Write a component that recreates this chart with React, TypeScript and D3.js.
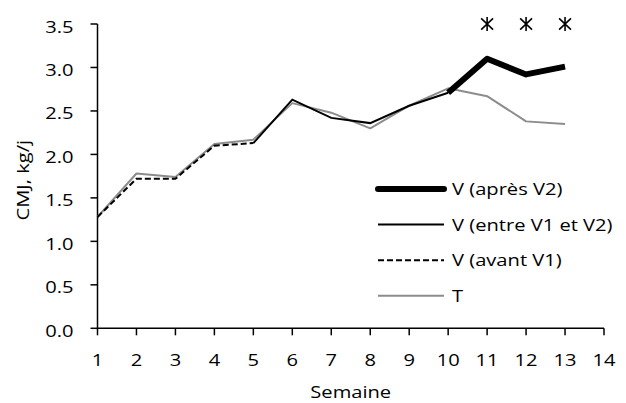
import { useEffect, useRef } from "react";
import * as d3 from "d3";

// weeks and series values (CMJ, kg/j)
const weeks = [1, 2, 3, 4, 5, 6, 7, 8, 9, 10, 11, 12, 13];
const tValues = [1.28, 1.78, 1.74, 2.12, 2.17, 2.59, 2.48, 2.30, 2.56, 2.76, 2.67, 2.38, 2.35];
const vAvantWeeks = [1, 2, 3, 4, 5];
const vAvant = [1.28, 1.72, 1.72, 2.10, 2.13];
const vEntreWeeks = [5, 6, 7, 8, 9, 10];
const vEntre = [2.13, 2.63, 2.42, 2.36, 2.56, 2.71];
const vApresWeeks = [10, 11, 12, 13];
const vApres = [2.71, 3.10, 2.92, 3.01];
const starWeeks = [11, 12, 13];
const starLevel = 3.5;

const xTicks = d3.range(1, 15);
const yTicks = [0, 0.5, 1, 1.5, 2, 2.5, 3, 3.5];

const legendItems = [
  { label: "V (après V2)", width: 6, color: "#000", dash: "" },
  { label: "V (entre V1 et V2)", width: 2, color: "#000", dash: "" },
  { label: "V (avant V1)", width: 2, color: "#000", dash: "6,3" },
  { label: "T", width: 2, color: "#8c8c8c", dash: "" },
];

const W = 626;
const H = 403;
const FONT = "Open Sans, sans-serif";
const FS = 16.5;
const SX = 1.22; // glyphs in the reference are wide

export default function App() {
  const ref = useRef<SVGSVGElement | null>(null);

  useEffect(() => {
    if (!ref.current) return;
    const svg = d3.select(ref.current);
    svg.selectAll("*").remove();

    const x = d3.scaleLinear().domain([1, 14]).range([97.5, 604]);
    const y = d3.scaleLinear().domain([0, 3.5]).range([328.3, 24]);

    // text drawn at (tx,ty), widened horizontally in its own frame
    const label = (tx: number, ty: number, s: string, anchor = "start", rot = 0, dy = "0") =>
      svg.append("text")
        .attr("transform", `translate(${tx},${ty}) rotate(${rot}) scale(${SX},1)`)
        .attr("text-anchor", anchor).attr("dy", dy)
        .style("font-family", FONT).style("font-size", `${FS}px`)
        .attr("fill", "#000").text(s);

    // axes
    const axis = svg.append("g").attr("stroke", "#000").attr("stroke-width", 1.5).attr("fill", "none");
    axis.append("path").attr("d", `M${x(1)},${y(3.5)}V${y(0)}H${x(14)}`);
    axis.selectAll(".yt").data(yTicks).enter().append("line")
      .attr("x1", x(1) - 7).attr("x2", x(1)).attr("y1", (d) => y(d)).attr("y2", (d) => y(d));
    axis.selectAll(".xt").data(xTicks).enter().append("line")
      .attr("x1", (d) => x(d)).attr("x2", (d) => x(d)).attr("y1", y(0)).attr("y2", y(0) + 7);

    const fy = d3.format(".1f");
    yTicks.forEach((t) => label(73.5, y(t) + 8.5, fy(t), "end"));
    xTicks.forEach((t) => label(x(t), 366, String(t), "middle"));

    const line = d3.line<[number, number]>().x((d) => x(d[0])).y((d) => y(d[1]));
    const zip = (xs: number[], ys: number[]) => xs.map((w, i) => [w, ys[i]] as [number, number]);

    svg.append("path").datum(zip(weeks, tValues)).attr("d", line)
      .attr("fill", "none").attr("stroke", "#8c8c8c").attr("stroke-width", 2).attr("stroke-linejoin", "round");
    svg.append("path").datum(zip(vAvantWeeks, vAvant)).attr("d", line)
      .attr("fill", "none").attr("stroke", "#000").attr("stroke-width", 2).attr("stroke-dasharray", "6,3");
    svg.append("path").datum(zip(vEntreWeeks, vEntre)).attr("d", line)
      .attr("fill", "none").attr("stroke", "#000").attr("stroke-width", 2);
    svg.append("path").datum(zip(vApresWeeks, vApres)).attr("d", line)
      .attr("fill", "none").attr("stroke", "#000").attr("stroke-width", 6).attr("stroke-linejoin", "round");

    // significance markers
    const r = 7;
    const star = `M0,${-r}V${r}M${-r * 0.85},${-r * 0.8}L${r * 0.85},${r * 0.8}M${-r * 0.85},${r * 0.8}L${r * 0.85},${-r * 0.8}`;
    svg.selectAll(".star").data(starWeeks).enter().append("path")
      .attr("transform", (d) => `translate(${x(d)},${y(starLevel)})`)
      .attr("d", star).attr("stroke", "#000").attr("stroke-width", 1.6).attr("fill", "none");

    // legend
    legendItems.forEach((it, i) => {
      const ly = 189 + i * 35.6;
      svg.append("line").attr("x1", 378).attr("x2", 444).attr("y1", ly).attr("y2", ly)
        .attr("stroke", it.color).attr("stroke-width", it.width)
        .attr("stroke-dasharray", it.dash || null).attr("stroke-linecap", it.width > 3 ? "round" : "butt");
      label(452, ly, it.label, "start", 0, "0.36em");
    });

    // axis titles
    label((x(1) + x(14)) / 2, 398, "Semaine", "middle");
    label(29, (y(0) + y(3.5)) / 2 + 4, "CMJ, kg/j", "middle", -90);
  }, []);

  return (
    <svg ref={ref} width={W} height={H}
      style={{ position: "absolute", left: 0, top: 0, background: "#fff" }} />
  );
}
